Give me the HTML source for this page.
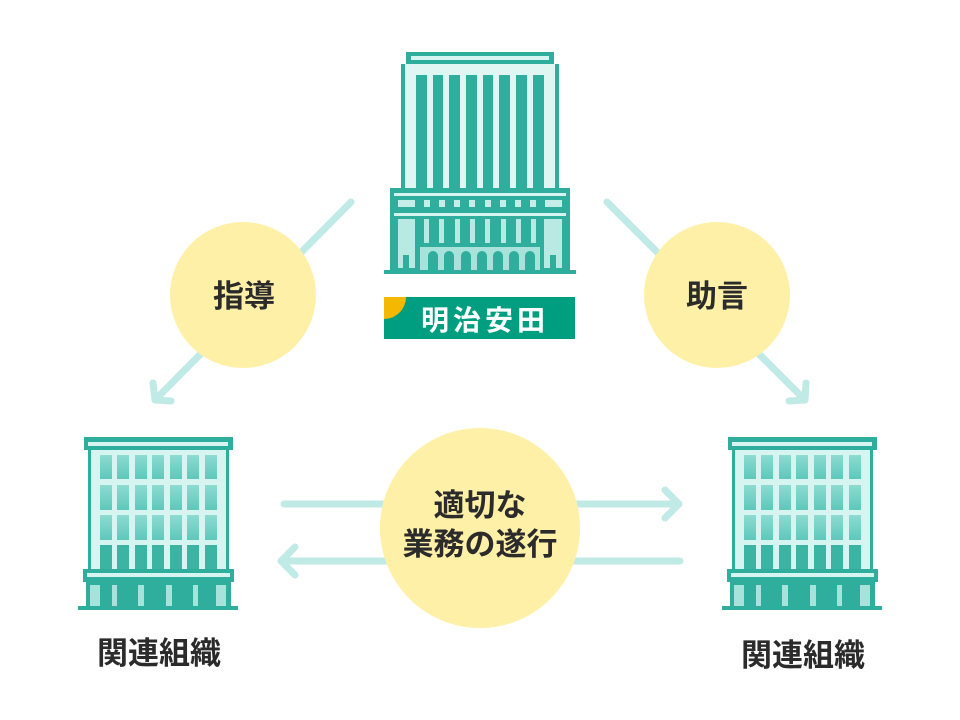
<!DOCTYPE html>
<html><head><meta charset="utf-8"><style>
html,body{margin:0;padding:0;background:#fff;}
svg{display:block;}
text{font-family:"Liberation Sans","Noto Sans CJK JP",sans-serif;font-weight:bold;fill:#2b2b2b;}
</style></head><body>
<svg width="960" height="720" viewBox="0 0 960 720" xmlns="http://www.w3.org/2000/svg">
<defs>
<linearGradient id="win" x1="0" y1="0" x2="0" y2="1"><stop offset="0" stop-color="#8ddbd1"/><stop offset="1" stop-color="#5ec8bb"/></linearGradient>
<g id="small">
  <rect x="84" y="437" width="149" height="13" fill="#2fae9e"/>
  <rect x="88" y="442" width="140" height="4" fill="#d6f4f0"/>
  <rect x="88" y="450" width="141" height="120" fill="#2fae9e"/>
  <rect x="91" y="450" width="135" height="120" fill="#d6f4f0"/>
  <g fill="url(#win)">
    <rect x="100" y="455" width="12" height="24"/><rect x="117" y="455" width="12" height="24"/><rect x="135" y="455" width="12" height="24"/><rect x="152" y="455" width="12" height="24"/><rect x="170" y="455" width="12" height="24"/><rect x="187" y="455" width="12" height="24"/><rect x="205" y="455" width="12" height="24"/>
    <rect x="100" y="485" width="12" height="25"/><rect x="117" y="485" width="12" height="25"/><rect x="135" y="485" width="12" height="25"/><rect x="152" y="485" width="12" height="25"/><rect x="170" y="485" width="12" height="25"/><rect x="187" y="485" width="12" height="25"/><rect x="205" y="485" width="12" height="25"/>
    <rect x="100" y="515" width="12" height="25"/><rect x="117" y="515" width="12" height="25"/><rect x="135" y="515" width="12" height="25"/><rect x="152" y="515" width="12" height="25"/><rect x="170" y="515" width="12" height="25"/><rect x="187" y="515" width="12" height="25"/><rect x="205" y="515" width="12" height="25"/>
  </g>
  <g fill="#3bb4a4">
    <rect x="100" y="545" width="12" height="25"/><rect x="117" y="545" width="12" height="25"/><rect x="135" y="545" width="12" height="25"/><rect x="152" y="545" width="12" height="25"/><rect x="170" y="545" width="12" height="25"/><rect x="187" y="545" width="12" height="25"/><rect x="205" y="545" width="12" height="25"/>
  </g>
  <rect x="83" y="569" width="151" height="13" fill="#2fae9e"/>
  <rect x="87" y="573" width="143" height="4" fill="#d6f4f0"/>
  <rect x="86" y="582" width="145" height="24" fill="#2fae9e"/>
  <g fill="#a8e3db">
    <rect x="90" y="585" width="10" height="21"/><rect x="112" y="585" width="5" height="21"/><rect x="138" y="585" width="6" height="21"/><rect x="166" y="585" width="6" height="21"/><rect x="193" y="585" width="5" height="21"/><rect x="216" y="585" width="10" height="21"/>
  </g>
  <rect x="78" y="606" width="160" height="4" fill="#2fae9e"/>
</g>
</defs>

<g stroke="#c0eae6" stroke-width="7" stroke-linecap="round" stroke-linejoin="round" fill="none">
  <line x1="351" y1="202" x2="157" y2="398"/>
  <polyline points="153,383 155,400 171,401"/>
  <line x1="607" y1="202" x2="803" y2="398"/>
  <polyline points="806,383 805,400 789,401"/>
  <line x1="284" y1="504" x2="678" y2="504"/>
  <polyline points="665,490 679,504 665,518"/>
  <line x1="286" y1="561" x2="680" y2="561"/>
  <polyline points="295,547 281,561 295,575"/>
</g>

<circle cx="243" cy="295" r="73" fill="#fff0a8"/>
<circle cx="717" cy="295" r="73" fill="#fff0a8"/>
<circle cx="480" cy="528" r="100" fill="#fff0a8"/>
<text x="244" y="307" font-size="31" text-anchor="middle">指導</text>
<text x="717" y="307" font-size="31" text-anchor="middle">助言</text>
<text x="480" y="516" font-size="31" text-anchor="middle">適切な</text>
<text x="480" y="555" font-size="31" text-anchor="middle">業務の遂行</text>

<rect x="406" y="52" width="148" height="12" fill="#2fae9e"/>
<rect x="411" y="56" width="138" height="4" fill="#d6f4f0"/>
<rect x="401" y="64" width="158" height="124" fill="#2fae9e"/>
<rect x="405" y="64" width="150" height="124" fill="#e0f6f3"/>
<g fill="#2fae9e">
  <rect x="416" y="75" width="11" height="113"/><rect x="433" y="75" width="10" height="113"/><rect x="449" y="75" width="11" height="113"/><rect x="466" y="75" width="11" height="113"/><rect x="483" y="75" width="10" height="113"/><rect x="499" y="75" width="11" height="113"/><rect x="516" y="75" width="11" height="113"/><rect x="533" y="75" width="11" height="113"/>
</g>
<rect x="390" y="188" width="180" height="82" fill="#2fae9e"/>
<rect x="394" y="193" width="172" height="3" fill="#d6f4f0"/>
<g fill="#c6eee8">
  <rect x="398" y="200" width="17" height="7"/><rect x="424" y="200" width="6" height="7"/><rect x="439" y="200" width="6" height="7"/><rect x="454" y="200" width="6" height="7"/><rect x="469" y="200" width="6" height="7"/><rect x="485" y="200" width="6" height="7"/><rect x="500" y="200" width="6" height="7"/><rect x="515" y="200" width="6" height="7"/><rect x="530" y="200" width="6" height="7"/><rect x="545" y="200" width="17" height="7"/>
</g>
<rect x="394" y="213" width="172" height="3" fill="#d6f4f0"/>
<rect x="398" y="219" width="17" height="49" fill="#b8e9e2"/>
<rect x="544" y="219" width="18" height="49" fill="#b8e9e2"/>
<rect x="403" y="255" width="6" height="15" fill="#2fae9e"/>
<rect x="550" y="255" width="6" height="15" fill="#2fae9e"/>
<g fill="#b8e9e2">
  <rect x="424" y="219" width="5" height="24"/><rect x="439" y="219" width="5" height="24"/><rect x="455" y="219" width="5" height="24"/><rect x="470" y="219" width="5" height="24"/><rect x="485" y="219" width="5" height="24"/><rect x="501" y="219" width="5" height="24"/><rect x="516" y="219" width="5" height="24"/><rect x="531" y="219" width="5" height="24"/>
</g>
<rect x="420" y="247" width="120" height="23" fill="#a8e3db"/>
<g fill="#2fae9e">
  <path d="M428 270v-14a5 5 0 0 1 10 0v14z"/><path d="M444 270v-14a5 5 0 0 1 10 0v14z"/><path d="M461 270v-14a5 5 0 0 1 10 0v14z"/><path d="M477 270v-14a5 5 0 0 1 10 0v14z"/><path d="M493 270v-14a5 5 0 0 1 10 0v14z"/><path d="M509 270v-14a5 5 0 0 1 10 0v14z"/><path d="M525 270v-14a5 5 0 0 1 10 0v14z"/>
</g>
<rect x="384" y="270" width="192" height="4" fill="#2fae9e"/>

<rect x="384" y="297" width="191" height="42" fill="#009e80"/>
<path d="M384 297h22a22 22 0 0 1 -22 22z" fill="#f5b800"/>
<text x="485" y="330" font-size="28" text-anchor="middle" style="fill:#fff;font-weight:bold" letter-spacing="4">明治安田</text>

<use href="#small"/>
<use href="#small" transform="translate(644,0)"/>
<text x="159" y="664" font-size="31" text-anchor="middle">関連組織</text>
<text x="803" y="666" font-size="31" text-anchor="middle">関連組織</text>
</svg>
</body></html>
